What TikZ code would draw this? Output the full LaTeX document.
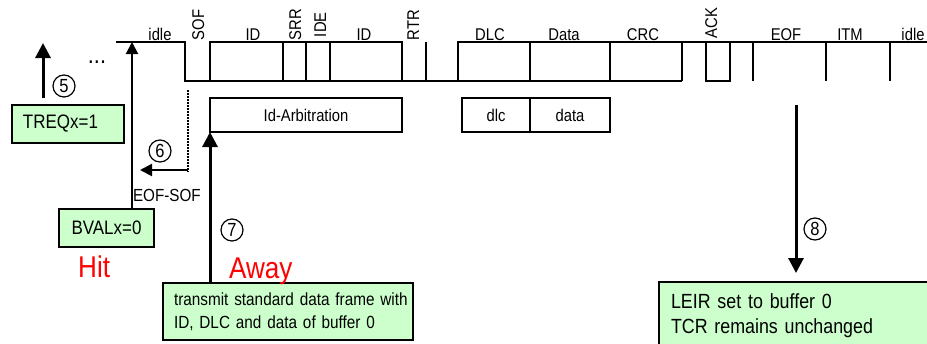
\documentclass[tikz,border=0pt]{standalone}
\usepackage{fontspec}
\setmainfont{Liberation Sans}[FakeStretch=0.87]
\usetikzlibrary{arrows.meta}
\definecolor{boxgreen}{RGB}{204,255,204}
\definecolor{hitred}{RGB}{255,0,0}
\begin{document}
\begin{tikzpicture}[x=1pt,y=-1pt,
  wave/.style={line width=2pt},
  lbl/.style={font=\fontsize{17}{17}\selectfont, inner sep=0pt, outer sep=0pt},
  rlbl/.style={lbl, rotate=90, anchor=base west},
  fieldbox/.style={draw, line width=2pt, minimum height=34pt, inner sep=0pt, outer sep=0pt,
    font=\fontsize{17}{17}\selectfont, anchor=north west},
  greenbox/.style={draw, line width=1.5pt, fill=boxgreen, inner sep=0pt, outer sep=0pt, anchor=north west},
  circnum/.style={circle, draw, line width=1.2pt, minimum size=22pt, inner sep=0pt,
    font=\fontsize{19}{19}\selectfont},
  bigarrow/.style={line width=3pt, -{Triangle[length=15pt,width=15pt]}},
  smallarrow/.style={line width=2pt, -{Triangle[length=12pt,width=12pt]}},
  redlbl/.style={text=hitred, font=\fontsize{30}{30}\selectfont, inner sep=0pt, anchor=base west}
]
\useasboundingbox (0,0) rectangle (927,343);
\clip (0,0) rectangle (927,343);

% ---------- bus waveform ----------
\draw[wave] (116,42) -- (185,42) -- (185,81) -- (682,81);
\draw[wave] (210,81) -- (210,42) -- (402,42) -- (402,81);
\foreach \x in {283,306,330,426} \draw[wave] (\x,42) -- (\x,81);
\draw[wave] (458,81) -- (458,42) -- (930,42);
\foreach \x in {530,610,682} \draw[wave] (\x,42) -- (\x,81);
\draw[wave] (706,42) -- (706,81) -- (730,81) -- (730,42);
\foreach \x in {753,826,890} \draw[wave] (\x,42) -- (\x,81);

% ---------- field labels ----------
\node[lbl, anchor=base] (lidle1) at (160,40) {idle};
\node[rlbl] (lsof) at (204,40) {SOF};
\node[lbl, anchor=base] (lid1) at (253,40) {ID};
\node[rlbl] (lsrr) at (301,40) {SRR};
\node[rlbl] (lide) at (326,37) {IDE};
\node[lbl, anchor=base] (lid2) at (364,40) {ID};
\node[rlbl] (lrtr) at (419,40) {RTR};
\node[lbl, anchor=base] (ldlc) at (490,40) {DLC};
\node[lbl, anchor=base] (ldata) at (564,40) {Data};
\node[lbl, anchor=base] (lcrc) at (643,40) {CRC};
\node[rlbl] (lack) at (717,38) {ACK};
\node[lbl, anchor=base] (leof) at (786,40) {EOF};
\node[lbl, anchor=base] (litm) at (850,40) {ITM};
\node[lbl, anchor=base] (lidle2) at (913,40) {idle};
\node[lbl, anchor=base, font=\fontsize{25}{25}\selectfont] (dots) at (97,63) {...};

% ---------- field boxes ----------
\node[fieldbox, minimum width=192pt] (idarb) at (210,98) {Id-Arbitration};
\node[fieldbox, minimum width=68pt] (dlcbox) at (462,98) {dlc};
\node[fieldbox, minimum width=80pt] (databox) at (530,98) {data};

% ---------- green boxes ----------
\node[greenbox, text width=90pt, inner xsep=11pt, minimum height=38pt, align=left,
  font=\fontsize{19.5}{19.5}\selectfont] (treq) at (12,105) {TREQx=1};
\node[greenbox, minimum width=95pt, minimum height=38pt,
  font=\fontsize{19.5}{19.5}\selectfont] (bval) at (59,209) {BVALx=0};
\node[greenbox, text width=228pt, inner xsep=11pt, minimum height=57pt, align=left,
  font=\fontsize{17.6}{23}\selectfont] (trans) at (163,283)
  {\mbox{transmit standard data frame with}\\\mbox{ID, DLC and data of buffer 0}};
\node[greenbox, text width=280pt, inner xsep=12pt, inner ysep=12pt, align=left,
  font=\fontsize{20.5}{25}\selectfont] (leir) at (659,282)
  {LEIR set to buffer 0\\TCR remains unchanged};

% ---------- arrows ----------
\coordinate (a5start) at (43,98);
\coordinate (a5end) at (43,43);
\draw[bigarrow] (a5start) -- (a5end);

\coordinate (idlehit) at (132,42);
\draw[smallarrow] (bval.north -| idlehit) -- (idlehit);

\coordinate (dottop) at (188,90);
\coordinate (dotend) at (188,172);
\draw[line width=1.5pt, dash pattern=on 1.5pt off 1.5pt] (dottop) -- (dotend);
\coordinate (a6start) at (188,170);
\coordinate (a6end) at (140,170);
\draw[smallarrow] (a6start) -- (a6end);

\draw[bigarrow] (trans.north -| idarb.south west) -- (idarb.south west);

\coordinate (a8start) at (796,105);
\draw[bigarrow, shorten >=9pt] (a8start) -- (a8start |- leir.north);

% ---------- labels ----------
\node[circnum] (n5) at (64,86) {5};
\node[circnum] (n6) at (160,151) {6};
\node[circnum] (n7) at (232,230) {7};
\node[circnum] (n8) at (815,229) {8};
\node[lbl, anchor=base west, font=\fontsize{17.5}{17.5}\selectfont] (eofsof) at (133,201) {EOF-SOF};
\node[redlbl] (hit) at (78,277) {Hit};
\node[redlbl] (away) at (229,278) {Away};
\end{tikzpicture}
\end{document}
